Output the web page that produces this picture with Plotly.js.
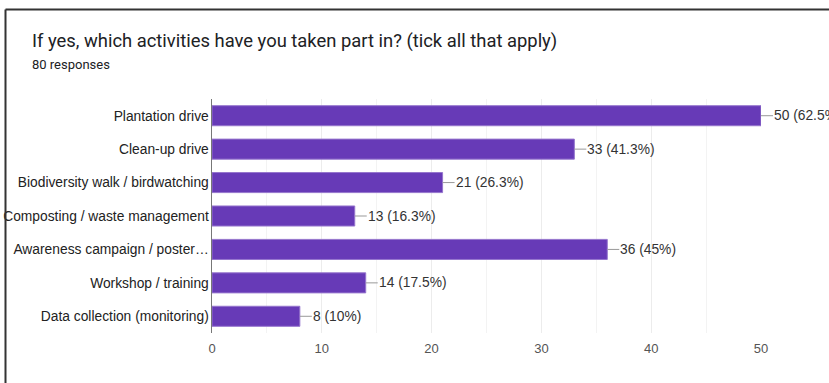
<!DOCTYPE html>
<html>
<head>
<meta charset="utf-8">
<script src="https://cdn.plot.ly/plotly-3.0.1.min.js"></script>
<style>html,body{margin:0;padding:0;background:#fff;}#chart{width:829px;height:383px;}</style>
</head>
<body>
<div id="chart"></div>
<script>
const categories = ["Plantation drive","Clean-up drive","Biodiversity walk / birdwatching","Composting / waste management","Awareness campaign / poster…","Workshop / training","Data collection (monitoring)"];
const counts = [50, 33, 21, 13, 36, 14, 8];
const percents = ["62.5%","41.3%","26.3%","16.3%","45%","17.5%","10%"];
const xTicks = [0, 10, 20, 30, 40, 50];
const titleText = "If yes, which activities have you taken part in? (tick all that apply)";
const subtitleText = "80 responses";

const W = 829, H = 383;
const L = 212, R = 68, T = 99, B = 50;
const pw = W - L - R, ph = H - T - B;
const px = v => (v - L) / pw;
const py = v => (H - B - v) / ph;
const ARIAL = '"Liberation Sans", Arial, sans-serif';
const ROBOTO = 'Roboto, Arial, sans-serif';

const annotations = categories.map((c, i) => ({
  x: counts[i], y: c, xref: 'x', yref: 'y',
  text: counts[i] + ' (' + percents[i] + ')',
  showarrow: true, arrowhead: 0, arrowwidth: 1, arrowcolor: '#999',
  ax: 12, ay: 0, xanchor: 'left', yanchor: 'middle',
  font: {family: ARIAL, size: 13.8, color: '#333'},
  borderpad: 0
}));
annotations.push({
  xref: 'paper', yref: 'paper', x: px(30), y: py(41), xanchor: 'left', yanchor: 'middle',
  text: titleText, showarrow: false,
  font: {family: ROBOTO, size: 18.4, color: '#202124'}
});
annotations.push({
  xref: 'paper', yref: 'paper', x: px(30), y: py(64), xanchor: 'left', yanchor: 'middle',
  text: subtitleText, showarrow: false,
  font: {family: ROBOTO, size: 13, color: '#202124'}
});

const data = [{
  type: 'bar', orientation: 'h',
  x: counts, y: categories,
  width: 0.6,
  marker: {color: '#673ab7', line: {color: '#9575cd', width: 1}},
  hoverinfo: 'none'
}];

const layout = {
  width: W, height: H,
  margin: {l: L, r: R, t: T, b: B, pad: 0},
  paper_bgcolor: '#fff', plot_bgcolor: '#fff',
  showlegend: false,
  font: {family: ARIAL, size: 13, color: '#222'},
  xaxis: {
    range: [0, 50], tickvals: xTicks, ticktext: xTicks.map(String),
    showgrid: true, gridcolor: '#ececec', gridwidth: 1,
    minor: {dtick: 5, showgrid: true, gridcolor: '#f3f3f3', gridwidth: 1},
    zeroline: false, showline: false, ticks: '',
    tickfont: {family: ARIAL, size: 13, color: '#555'},
    ticklabelstandoff: 6,
    fixedrange: true
  },
  yaxis: {
    autorange: 'reversed', type: 'category',
    showgrid: false, zeroline: false,
    showline: true, linecolor: '#777', linewidth: 1.5,
    ticks: '', ticklabelstandoff: -1,
    tickfont: {family: ARIAL, size: 13.8, color: '#222'},
    fixedrange: true
  },
  annotations: annotations,
  shapes: [
    {type: 'line', xref: 'paper', yref: 'paper', x0: px(5.5), x1: px(5.5), y0: py(9.5), y1: py(H + 2), line: {color: '#333', width: 2}, layer: 'above'},
    {type: 'line', xref: 'paper', yref: 'paper', x0: px(5.5), x1: px(W + 2), y0: py(9.5), y1: py(9.5), line: {color: '#333', width: 2}, layer: 'above'}
  ]
};

Plotly.newPlot('chart', data, layout, {displayModeBar: false, staticPlot: true});
</script>
</body>
</html>
